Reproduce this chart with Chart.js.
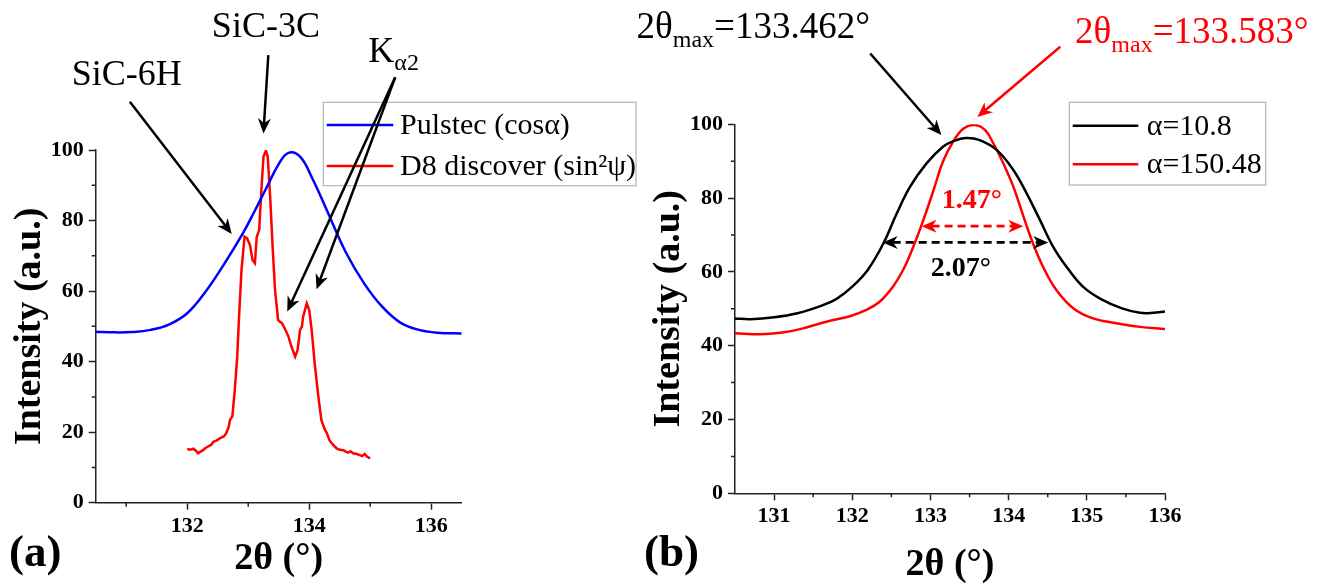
<!DOCTYPE html>
<html>
<head>
<meta charset="utf-8">
<script src="https://cdn.jsdelivr.net/npm/chart.js@4.4.0/dist/chart.umd.min.js"></script>
<style>
  body { margin: 0; background: #fff; }
  #wrap { position: relative; width: 1327px; height: 588px; overflow: hidden; }
  canvas { position: absolute; top: 0; }
  #panelA { left: 0; }
  #panelB { left: 600px; }
</style>
</head>
<body>
<div id="wrap">
  <canvas id="panelA" width="660" height="588"></canvas>
  <canvas id="panelB" width="727" height="588"></canvas>
</div>
<script>
// (a) Pulstec, cos(alpha) method
const pulstecX = [130.5, 130.8, 131.1, 131.4, 131.7, 132.0, 132.3, 132.6, 132.9, 133.1, 133.3, 133.5,
  133.66, 133.85, 134.05, 134.3, 134.6, 134.9, 135.2, 135.5, 135.8, 136.1, 136.5];
const pulstecY = [48.5, 48.3, 48.4, 49.0, 50.5, 53.7, 59.8, 67.5, 76.0, 82.5, 89.3, 96.0,
  99.2, 98.1, 92.0, 82.5, 71.0, 62.2, 55.5, 51.0, 49.0, 48.2, 48.0];

// (a) D8 discover, sin^2(psi) method
const d8X = [132.0, 132.05, 132.1, 132.15, 132.18, 132.22, 132.26, 132.3, 132.35, 132.4, 132.43, 132.48,
  132.54, 132.6, 132.64, 132.68, 132.7, 132.74, 132.78, 132.82, 132.85, 132.89, 132.94, 132.98, 133.03,
  133.07, 133.11, 133.14, 133.18, 133.21, 133.25, 133.29, 133.32, 133.36, 133.40, 133.44, 133.49, 133.52,
  133.55, 133.6, 133.66, 133.71, 133.77, 133.81, 133.85, 133.88, 133.9, 133.96, 134.0, 134.04, 134.09,
  134.15, 134.2, 134.25, 134.29, 134.33, 134.37, 134.45, 134.5, 134.56, 134.6, 134.64, 134.68, 134.72,
  134.78, 134.83, 134.87, 134.91, 134.95, 135.0];
const d8Y = [15.2, 15.0, 15.3, 14.6, 14.0, 14.5, 14.9, 15.5, 16.0, 16.5, 17.3, 17.6,
  18.3, 18.8, 19.7, 21.5, 23.4, 24.5, 32.0, 41.4, 52.7, 66.0, 75.4, 75.0, 73.0,
  68.8, 67.9, 75.4, 77.3, 86.8, 98.1, 99.8, 98.1, 86.8, 72.6, 60.3, 51.8, 51.3,
  51.0, 49.4, 47.1, 44.2, 41.4, 43.3, 49.0, 49.9, 52.7, 56.5, 54.6, 49.0, 39.5,
  30.1, 23.4, 21.0, 19.7, 17.8, 16.8, 15.4, 15.0, 14.9, 14.5, 14.2, 14.6, 14.0,
  13.8, 13.5, 13.2, 13.8, 13.0, 12.6];

// (b) alpha = 10.8
const lowX = [130.5, 130.7, 131.0, 131.3, 131.6, 131.8, 132.0, 132.2, 132.4, 132.57, 132.74, 132.95,
  133.16, 133.3, 133.46, 133.63, 133.85, 134.06, 134.23, 134.4, 134.57, 134.74, 134.95, 135.2,
  135.45, 135.68, 135.85, 136.0];
const lowY = [47.4, 47.2, 47.7, 48.8, 50.8, 52.7, 56.0, 60.6, 67.8, 75.9, 83.1, 89.4,
  93.9, 95.5, 96.3, 95.7, 93.0, 87.6, 81.3, 74.1, 66.8, 61.4, 56.0, 52.4,
  50.1, 48.9, 48.9, 49.3];

// (b) alpha = 150.48
const highX = [130.5, 130.82, 131.08, 131.37, 131.67, 131.97, 132.18, 132.35, 132.52, 132.65, 132.78,
  132.91, 133.04, 133.16, 133.29, 133.42, 133.57, 133.7, 133.8, 133.93, 134.06, 134.19, 134.31,
  134.44, 134.61, 134.83, 135.08, 135.38, 135.68, 136.0];
const highY = [43.4, 43.1, 43.5, 44.7, 46.5, 48.0, 49.7, 51.9, 56.0, 60.5, 66.8,
  74.1, 82.2, 89.9, 95.3, 98.8, 99.8, 98.4, 95.0, 89.5, 83.1, 75.0, 67.8,
  61.4, 55.1, 50.1, 47.4, 46.1, 45.1, 44.5];

// axis ticks
const yTicks = [0, 20, 40, 60, 80, 100];
const yMinor = [10, 30, 50, 70, 90];
const xTicksA = [132, 134, 136];
const xMinorA = [131, 133, 135];
const xTicksB = [131, 132, 133, 134, 135, 136];
const xMinorB = [131.5, 132.5, 133.5, 134.5, 135.5];

const SERIF = '"Liberation Serif", "Times New Roman", serif';
const AXIS = '#222';
const RED = '#f00';
const BLUE = '#00f';

function pts(xs, ys) {
  return xs.map((x, i) => ({ x: x, y: ys[i] }));
}

function drawRuns(ctx, x, y, runs, color) {
  ctx.fillStyle = color;
  ctx.textAlign = 'left';
  ctx.textBaseline = 'alphabetic';
  runs.forEach(r => {
    ctx.font = (r.bold ? 'bold ' : '') + r.size + 'px ' + SERIF;
    ctx.fillText(r.text, x, y + (r.dy || 0));
    x += ctx.measureText(r.text).width;
  });
}

function head(ctx, fx, fy, tx, ty) {
  const a = Math.atan2(ty - fy, tx - fx);
  const len = 15, half = 6.5;
  const c = Math.cos(a), s = Math.sin(a);
  ctx.beginPath();
  ctx.moveTo(tx, ty);
  ctx.lineTo(tx - len * c + half * s, ty - len * s - half * c);
  ctx.lineTo(tx - len * 0.7 * c, ty - len * 0.7 * s);
  ctx.lineTo(tx - len * c - half * s, ty - len * s + half * c);
  ctx.closePath();
  ctx.fill();
}

function arrow(ctx, x1, y1, x2, y2, color) {
  const a = Math.atan2(y2 - y1, x2 - x1);
  ctx.strokeStyle = color;
  ctx.fillStyle = color;
  ctx.lineWidth = 2.5;
  ctx.setLineDash([]);
  ctx.beginPath();
  ctx.moveTo(x1, y1);
  ctx.lineTo(x2 - 10 * Math.cos(a), y2 - 10 * Math.sin(a));
  ctx.stroke();
  head(ctx, x1, y1, x2, y2);
}

function doubleArrow(ctx, x1, x2, y, color) {
  ctx.strokeStyle = color;
  ctx.fillStyle = color;
  ctx.lineWidth = 2.8;
  ctx.setLineDash([8, 5]);
  ctx.beginPath();
  ctx.moveTo(x1 + 10, y);
  ctx.lineTo(x2 - 10, y);
  ctx.stroke();
  ctx.setLineDash([]);
  head(ctx, x2, y, x1, y);
  head(ctx, x1, y, x2, y);
}

// minor ticks, axis titles, panel letter, legend and annotations
function decor(cfg) {
  return {
    id: 'decor',
    afterDraw(chart) {
      const ctx = chart.ctx;
      const xs = chart.scales.x, ys = chart.scales.y;
      const area = chart.chartArea;
      const px = v => xs.getPixelForValue(v);
      const py = v => ys.getPixelForValue(v);
      ctx.save();

      ctx.strokeStyle = AXIS;
      ctx.lineWidth = 1.5;
      ctx.beginPath();
      cfg.xMinor.forEach(v => { ctx.moveTo(px(v), area.bottom); ctx.lineTo(px(v), area.bottom + 4); });
      cfg.yMinor.forEach(v => { ctx.moveTo(area.left, py(v)); ctx.lineTo(area.left - 4, py(v)); });
      ctx.stroke();

      ctx.fillStyle = '#000';
      ctx.font = 'bold 38px ' + SERIF;
      ctx.textAlign = 'center';
      ctx.textBaseline = 'alphabetic';
      ctx.fillText('2\u03b8 (\u00b0)', (area.left + area.right) / 2, cfg.xTitleY);
      ctx.save();
      ctx.translate(cfg.yTitleX, (area.top + area.bottom) / 2);
      ctx.rotate(-Math.PI / 2);
      ctx.textBaseline = 'middle';
      ctx.fillText('Intensity (a.u.)', 0, 0);
      ctx.restore();

      ctx.font = 'bold 45px ' + SERIF;
      ctx.textAlign = 'left';
      ctx.fillText(cfg.letter, cfg.letterX, 566);

      // legend box
      const lg = cfg.legend;
      ctx.strokeStyle = '#b4b4b4';
      ctx.lineWidth = 1.2;
      ctx.strokeRect(lg.box[0], lg.box[1], lg.box[2] - lg.box[0], lg.box[3] - lg.box[1]);
      chart.data.datasets.forEach((ds, i) => {
        const y = lg.rows[i];
        ctx.strokeStyle = ds.borderColor;
        ctx.lineWidth = 2.5;
        ctx.beginPath();
        ctx.moveTo(lg.line[0], y);
        ctx.lineTo(lg.line[1], y);
        ctx.stroke();
        ctx.fillStyle = '#000';
        ctx.font = '30px ' + SERIF;
        ctx.textAlign = 'left';
        ctx.textBaseline = 'middle';
        ctx.fillText(ds.label, lg.textX, y + 1);
      });

      cfg.notes(ctx, px, py);
      ctx.restore();
    }
  };
}

function scales(xMin, xMax, xTicks, yWidth, xHeight, tickSize) {
  const font = { family: SERIF, size: tickSize, weight: 'bold' };
  return {
    x: {
      type: 'linear',
      min: xMin,
      max: xMax,
      afterBuildTicks: s => { s.ticks = xTicks.map(v => ({ value: v })); },
      afterFit: s => { s.height = xHeight; },
      border: { color: AXIS, width: 1.5 },
      grid: { drawOnChartArea: false, tickLength: 7, tickColor: AXIS, tickWidth: 1.5 },
      ticks: { font: font, color: '#000', padding: 3, maxRotation: 0, autoSkip: false }
    },
    y: {
      min: 0,
      max: 100,
      afterBuildTicks: s => { s.ticks = yTicks.map(v => ({ value: v })); },
      afterFit: s => { s.width = yWidth; },
      border: { color: AXIS, width: 1.5 },
      grid: { drawOnChartArea: false, tickLength: 7, tickColor: AXIS, tickWidth: 1.5 },
      ticks: { font: font, color: '#000', padding: 5 }
    }
  };
}

const common = {
  responsive: false,
  animation: false,
  events: [],
  elements: { point: { radius: 0 } },
  plugins: { legend: { display: false }, tooltip: { enabled: false } }
};

new Chart(document.getElementById('panelA'), {
  type: 'scatter',
  data: {
    datasets: [
      { label: 'Pulstec (cos\u03b1)', data: pts(pulstecX, pulstecY), showLine: true,
        borderColor: BLUE, borderWidth: 2.5, tension: 0.4 },
      { label: 'D8 discover (sin\u00b2\u03c8)', data: pts(d8X, d8Y), showLine: true,
        borderColor: RED, borderWidth: 2.5, tension: 0 }
    ]
  },
  options: Object.assign({}, common, {
    layout: { padding: { left: 0, top: 150, right: 198.3, bottom: 0 } },
    scales: scales(130.5, 136.5, xTicksA, 95.7, 85.3, 22)
  }),
  plugins: [decor({
    xMinor: xMinorA, yMinor: yMinor,
    xTitleY: 569, yTitleX: 30, letter: '(a)', letterX: 9,
    legend: { box: [323.3, 102.3, 636, 185.7], line: [326.7, 393.3], rows: [125, 166], textX: 400 },
    notes(ctx, px, py) {
      ctx.fillStyle = '#000';
      ctx.font = '36px ' + SERIF;
      ctx.textAlign = 'center';
      ctx.textBaseline = 'alphabetic';
      ctx.fillText('SiC-6H', px(131.01), py(118.4));
      ctx.fillText('SiC-3C', px(133.29), py(132.0));
      drawRuns(ctx, px(134.97), py(124.9), [
        { text: 'K', size: 36 },
        { text: '\u03b12', size: 24, dy: 8 }
      ], '#000');
      arrow(ctx, px(131.06), py(113.7), px(132.73), py(76.2), '#000');
      arrow(ctx, px(133.33), py(126.9), px(133.25), py(104.7), '#000');
      arrow(ctx, px(135.41), py(120.6), px(133.64), py(54.2), '#000');
      arrow(ctx, px(135.41), py(120.6), px(134.12), py(60.5), '#000');
    }
  })]
});

new Chart(document.getElementById('panelB'), {
  type: 'scatter',
  data: {
    datasets: [
      { label: '\u03b1=10.8', data: pts(lowX, lowY), showLine: true,
        borderColor: '#000', borderWidth: 2.5, tension: 0.4 },
      { label: '\u03b1=150.48', data: pts(highX, highY), showLine: true,
        borderColor: RED, borderWidth: 2.5, tension: 0.4 }
    ]
  },
  options: Object.assign({}, common, {
    layout: { padding: { left: 0, top: 124.3, right: 162, bottom: 0 } },
    scales: scales(130.5, 136, xTicksB, 135, 94.7, 22)
  }),
  plugins: [decor({
    xMinor: xMinorB, yMinor: yMinor,
    xTitleY: 575, yTitleX: 69, letter: '(b)', letterX: 44,
    legend: { box: [469.3, 102.3, 665.7, 185], line: [472.7, 538.3], rows: [125.7, 164.3], textX: 546.7 },
    notes(ctx, px, py) {
      drawRuns(ctx, px(129.24), py(123.4), [
        { text: '2\u03b8', size: 37 },
        { text: 'max', size: 24, dy: 9 },
        { text: '=133.462\u00b0', size: 37 }
      ], '#000');
      drawRuns(ctx, px(134.85), py(122.0), [
        { text: '2\u03b8', size: 37 },
        { text: 'max', size: 24, dy: 9 },
        { text: '=133.583\u00b0', size: 37 }
      ], RED);
      arrow(ctx, px(132.23), py(119.2), px(133.14), py(97.1), '#000');
      arrow(ctx, px(134.66), py(121.0), px(133.60), py(102.0), RED);
      doubleArrow(ctx, px(132.887), px(134.187), py(72.4), RED);
      doubleArrow(ctx, px(132.389), px(134.506), py(68.0), '#000');
      ctx.font = 'bold 28px ' + SERIF;
      ctx.textAlign = 'center';
      ctx.textBaseline = 'alphabetic';
      ctx.fillStyle = RED;
      ctx.fillText('1.47\u00b0', px(133.53), py(77.3));
      ctx.fillStyle = '#000';
      ctx.fillText('2.07\u00b0', px(133.39), py(59.0));
    }
  })]
});
</script>
</body>
</html>
